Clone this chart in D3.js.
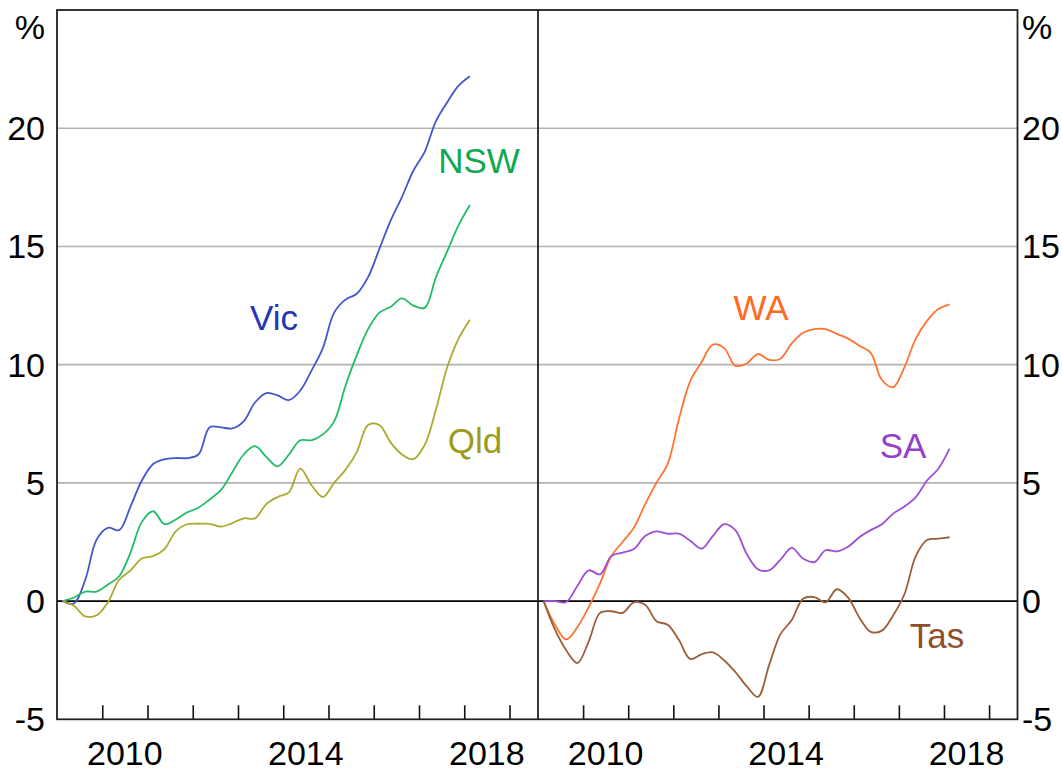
<!DOCTYPE html>
<html>
<head>
<meta charset="utf-8">
<script src="https://cdn.jsdelivr.net/npm/d3@7"></script>
<style>
  body { margin: 0; background: #fff; }
  svg text { font-family: Arial, "Liberation Sans", sans-serif; }
</style>
</head>
<body>
<div id="chart"></div>
<script>
// quarterly observations, Feb 2009 to Feb 2018 (decimal years)
const quarters = d3.range(37).map(i => 2009.125 + i * 0.25);

const vic = [0.0, -0.1, 0.9, 2.6, 3.1, 3.0, 4.0, 5.1, 5.8, 6.0, 6.05, 6.05, 6.2, 7.35, 7.35, 7.3, 7.6, 8.4, 8.8, 8.7,
  8.5, 8.9, 9.75, 10.7, 12.2, 12.75, 13.0, 13.7, 14.9, 16.1, 17.1, 18.2, 19.0, 20.3, 21.1, 21.8, 22.2];
const nsw = [0.0, 0.15, 0.4, 0.4, 0.7, 1.05, 2.05, 3.35, 3.8, 3.25, 3.45, 3.75, 3.95, 4.3, 4.7, 5.45, 6.2, 6.55, 6.1, 5.7,
  6.2, 6.8, 6.8, 7.05, 7.6, 9.1, 10.4, 11.5, 12.2, 12.45, 12.8, 12.5, 12.4, 13.7, 14.8, 15.9, 16.75];
const qld = [0.0, -0.2, -0.65, -0.6, -0.05, 0.9, 1.3, 1.8, 1.9, 2.2, 2.95, 3.25, 3.27, 3.27, 3.15, 3.3, 3.5, 3.5, 4.1, 4.4,
  4.6, 5.6, 4.9, 4.4, 5.0, 5.55, 6.3, 7.45, 7.45, 6.7, 6.2, 6.0, 6.6, 8.1, 9.9, 11.1, 11.9];
const wa = [0.0, -1.0, -1.62, -1.1, -0.25, 0.75, 1.9, 2.5, 3.1, 4.1, 5.0, 5.8, 7.7, 9.3, 10.1, 10.85, 10.7, 9.95, 10.05, 10.45,
  10.2, 10.25, 10.9, 11.35, 11.5, 11.5, 11.3, 11.1, 10.8, 10.5, 9.35, 9.05, 9.9, 11.1, 11.85, 12.35, 12.55];
const sa = [0.0, 0.0, -0.04, 0.65, 1.3, 1.13, 1.9, 2.05, 2.2, 2.75, 2.95, 2.85, 2.85, 2.55, 2.22, 2.75, 3.25, 3.0, 2.0, 1.35,
  1.3, 1.75, 2.25, 1.8, 1.65, 2.15, 2.1, 2.3, 2.7, 3.0, 3.25, 3.7, 4.0, 4.4, 5.1, 5.6, 6.45];
const tas = [0.0, -1.2, -2.08, -2.62, -1.7, -0.5, -0.43, -0.5, -0.05, -0.15, -0.85, -1.0, -1.65, -2.45, -2.25, -2.17, -2.5, -3.0, -3.6, -4.05,
  -2.7, -1.4, -0.8, 0.1, 0.17, -0.05, 0.5, 0.15, -0.7, -1.3, -1.25, -0.6, 0.3, 1.9, 2.58, 2.64, 2.7];

const yTicks = [-5, 0, 5, 10, 15, 20];
const yearTicks = d3.range(2010, 2020);
const yearLabels = [2010, 2014, 2018];

const panels = [
  { x0: 57, x1: 538, series: [
    { name: 'Vic', values: vic, color: '#4257cc', text: '#2436b4', lx: 274, ly: 330 },
    { name: 'NSW', values: nsw, color: '#22bb66', text: '#12a852', lx: 479, ly: 173 },
    { name: 'Qld', values: qld, color: '#abab2e', text: '#9e9c1e', lx: 475, ly: 453 }
  ] },
  { x0: 538, x1: 1017.5, series: [
    { name: 'WA', values: wa, color: '#ff7432', text: '#ff6a1e', lx: 761, ly: 320 },
    { name: 'SA', values: sa, color: '#9d4fd6', text: '#9440cc', lx: 903, ly: 458 },
    { name: 'Tas', values: tas, color: '#9c5d3a', text: '#8e4f2a', lx: 937, ly: 648 }
  ] }
];

const width = 1062, height = 771;
const plotTop = 10, plotBottom = 719.3;

const svg = d3.select('#chart').append('svg')
  .attr('width', width)
  .attr('height', height);

const y = d3.scaleLinear().domain([-5, 25]).range([plotBottom, plotTop]);

panels.forEach(function (p) {
  const x = d3.scaleLinear().domain([2009, 2019.63]).range([p.x0, p.x1]);
  const g = svg.append('g');

  // gridlines
  g.selectAll('.grid')
    .data(yTicks.filter(d => d > -5 && d !== 0))
    .enter().append('line')
    .attr('x1', p.x0).attr('x2', p.x1)
    .attr('y1', d => y(d)).attr('y2', d => y(d))
    .attr('stroke', '#b4b4b4')
    .attr('stroke-width', 1.6);

  // zero line
  g.append('line')
    .attr('x1', p.x0).attr('x2', p.x1)
    .attr('y1', y(0)).attr('y2', y(0))
    .attr('stroke', '#000')
    .attr('stroke-width', 1.6);

  // year tick marks (inside, from the bottom)
  const xAxis = d3.axisBottom(x).tickValues(yearTicks).tickSize(-14).tickFormat('');
  const ax = g.append('g').attr('transform', `translate(0,${plotBottom})`).call(xAxis);
  ax.select('.domain').remove();
  ax.selectAll('line').attr('stroke', '#111').attr('stroke-width', 1.6);

  g.selectAll('.yr')
    .data(yearLabels)
    .enter().append('text')
    .attr('x', d => x(d + 0.5))
    .attr('y', 765)
    .attr('text-anchor', 'middle')
    .attr('font-size', 34)
    .attr('fill', '#000')
    .text(d => d);

  // lines
  const line = d3.line()
    .x((d, i) => x(quarters[i]))
    .y(d => y(d))
    .curve(d3.curveCatmullRom.alpha(0.5));

  p.series.forEach(function (s) {
    g.append('path')
      .datum(s.values)
      .attr('d', line)
      .attr('fill', 'none')
      .attr('stroke', s.color)
      .attr('stroke-width', 1.8);
    g.append('text')
      .attr('x', s.lx)
      .attr('y', s.ly)
      .attr('text-anchor', 'middle')
      .attr('font-size', 35)
      .attr('fill', s.text)
      .text(s.name);
  });
});

// frame
svg.append('rect')
  .attr('x', 57).attr('y', plotTop)
  .attr('width', 1017.5 - 57).attr('height', plotBottom - plotTop)
  .attr('fill', 'none')
  .attr('stroke', '#222')
  .attr('stroke-width', 1.8);
svg.append('line')
  .attr('x1', 538).attr('x2', 538)
  .attr('y1', plotTop).attr('y2', plotBottom)
  .attr('stroke', '#222')
  .attr('stroke-width', 1.8);

// y labels both sides
const yLeft = svg.append('g');
yLeft.selectAll('text')
  .data(yTicks)
  .enter().append('text')
  .attr('x', 45)
  .attr('y', d => y(d) + 12)
  .attr('text-anchor', 'end')
  .attr('font-size', 34)
  .text(d => d);
yLeft.append('text')
  .attr('x', 45).attr('y', 39)
  .attr('text-anchor', 'end')
  .attr('font-size', 34)
  .text('%');

const yRight = svg.append('g');
yRight.selectAll('text')
  .data(yTicks)
  .enter().append('text')
  .attr('x', 1022)
  .attr('y', d => y(d) + 12)
  .attr('text-anchor', 'start')
  .attr('font-size', 34)
  .text(d => d);
yRight.append('text')
  .attr('x', 1022).attr('y', 39)
  .attr('text-anchor', 'start')
  .attr('font-size', 34)
  .text('%');
</script>
</body>
</html>
